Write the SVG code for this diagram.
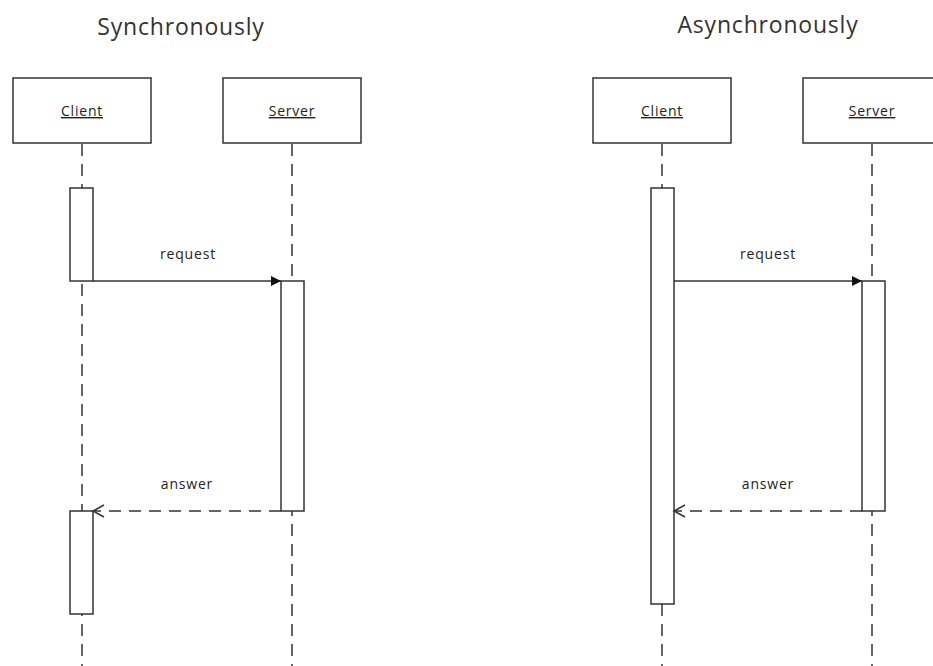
<svg xmlns="http://www.w3.org/2000/svg" width="933" height="666" viewBox="0 0 933 666">
<style>
.box{fill:#fff;stroke:#333;stroke-width:1.5}
.life{stroke:#333;stroke-width:1.5;stroke-dasharray:12 8;fill:none}
.msg{stroke:#333;stroke-width:1.5;fill:none}
.ret{stroke:#333;stroke-width:1.5;fill:none;stroke-dasharray:12 8}
.title{font-family:"Open Sans","Liberation Sans",sans-serif;font-size:23px;fill:#333;text-anchor:middle;letter-spacing:0.8px}
.lbl{font-family:"Open Sans","Liberation Sans",sans-serif;font-size:14px;fill:#222;text-anchor:middle;letter-spacing:0.8px}
.name{text-decoration:underline}
</style>
<defs>
<marker id="filled" markerWidth="12" markerHeight="12" refX="10" refY="5" orient="auto" markerUnits="userSpaceOnUse">
<path d="M0,0 L10,5 L0,10 Z" fill="#111"/>
</marker>
<marker id="open" markerWidth="14" markerHeight="14" refX="12" refY="7" orient="auto" markerUnits="userSpaceOnUse">
<path d="M1,1 L12,7 L1,13" fill="none" stroke="#333" stroke-width="1.5"/>
</marker>
</defs>
<rect width="933" height="666" fill="#fff"/>
<text class="title" x="181" y="35">Synchronously</text>
<text class="title" x="768" y="33">Asynchronously</text>

<g id="lifelines">
<line class="life" x1="82" y1="144" x2="82" y2="666"/>
<line class="life" x1="292" y1="144" x2="292" y2="666"/>
<line class="life" x1="662" y1="144" x2="662" y2="666"/>
<line class="life" x1="872" y1="144" x2="872" y2="666"/>
</g>

<g id="sync-client">
<rect class="box" x="13" y="78" width="138" height="65"/>
<text class="lbl name" x="82" y="116">Client</text>
</g>
<g id="sync-server">
<rect class="box" x="223" y="78" width="138" height="65"/>
<text class="lbl name" x="292" y="116">Server</text>
</g>
<g id="async-client">
<rect class="box" x="593" y="78" width="138" height="65"/>
<text class="lbl name" x="662" y="116">Client</text>
</g>
<g id="async-server">
<rect class="box" x="803" y="78" width="138" height="65"/>
<text class="lbl name" x="872" y="116">Server</text>
</g>

<g id="sync-client-act1"><rect class="box" x="70" y="188" width="23" height="93"/></g>
<g id="sync-server-act"><rect class="box" x="281" y="281" width="23" height="230"/></g>
<g id="sync-client-act2"><rect class="box" x="70" y="511" width="23" height="103"/></g>
<g id="async-client-act"><rect class="box" x="651" y="188" width="23" height="416"/></g>
<g id="async-server-act"><rect class="box" x="862" y="281" width="23" height="230"/></g>

<g id="connectors">
<line class="msg" x1="93" y1="281" x2="281" y2="281" marker-end="url(#filled)"/>
<text class="lbl" x="188" y="259">request</text>
<line class="ret" x1="281" y1="511" x2="93" y2="511" marker-end="url(#open)"/>
<text class="lbl" x="187" y="489">answer</text>
<line class="msg" x1="674" y1="281" x2="862" y2="281" marker-end="url(#filled)"/>
<text class="lbl" x="768" y="259">request</text>
<line class="ret" x1="862" y1="511" x2="674" y2="511" marker-end="url(#open)"/>
<text class="lbl" x="768" y="489">answer</text>
</g>
</svg>
